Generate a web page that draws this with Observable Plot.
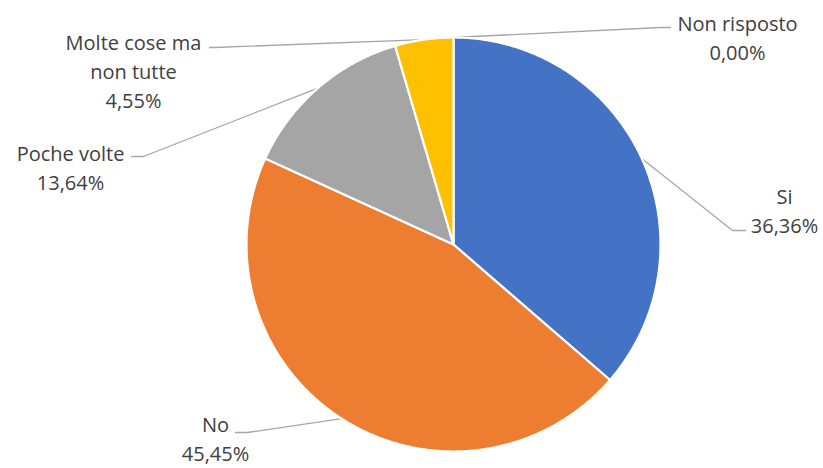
<!DOCTYPE html>
<html>
<head>
<meta charset="utf-8">
<script src="https://cdn.jsdelivr.net/npm/d3@7"></script>
<script src="https://cdn.jsdelivr.net/npm/@observablehq/plot@0.6"></script>
<style>
  html, body { margin: 0; padding: 0; background: #fff; }
</style>
</head>
<body>
<div id="chart"></div>
<script>
// ---- data ----
const categories = ["Si", "No", "Poche volte", "Molte cose ma non tutte", "Non risposto"];
const percentages = [36.36, 45.45, 13.64, 4.55, 0.00];
const colors = ["#4472C4", "#ED7D31", "#A5A5A5", "#FFC000", "#5B9BD5"];

// ---- layout (pixels) ----
const W = 823, H = 468;
const CX = 453, CY = 244, R = 207;
const labelLines = {
  "Si": ["Si"],
  "No": ["No"],
  "Poche volte": ["Poche volte"],
  "Molte cose ma non tutte": ["Molte cose ma", "non tutte"],
  "Non risposto": ["Non risposto"]
};
const labelPos = {           // block center in pixels
  "Si": [784, 209],
  "No": [215, 437],
  "Poche volte": [70, 166],
  "Molte cose ma non tutte": [133, 69.5],
  "Non risposto": [737, 35.5]
};
const leaderPts = {          // elbow and end points in pixels
  "Si": [[732, 230], [745, 230]],
  "No": [[247, 432], [235, 432]],
  "Poche volte": [[143, 156], [131, 156]],
  "Molte cose ma non tutte": [[214, 47], [209, 47]],
  "Non risposto": [[660, 27], [670, 27]]
};

// pixel <-> data (unit circle) helpers
const toX = px => (px - CX) / R;
const toY = py => (CY - py) / R;

const rows = categories.map((c, i) => ({category: c, value: percentages[i], color: colors[i]}));
const pie = d3.pie().sort(null).value(d => d.value)(rows);

// slice polygons in unit coordinates
const slicePts = [];
pie.forEach(p => {
  if (p.endAngle - p.startAngle <= 0) return;
  const key = p.data.category;
  slicePts.push({key, x: 0, y: 0, color: p.data.color});
  const n = Math.max(2, Math.ceil((p.endAngle - p.startAngle) / 0.01));
  for (let k = 0; k <= n; k++) {
    const a = p.startAngle + (p.endAngle - p.startAngle) * k / n;
    slicePts.push({key, x: Math.sin(a), y: Math.cos(a), color: p.data.color});
  }
  slicePts.push({key, x: 0, y: 0, color: p.data.color});
});

// leader lines
const leaders = [];
pie.forEach(p => {
  const key = p.data.category;
  const a = (p.startAngle + p.endAngle) / 2;
  leaders.push({key, x: Math.sin(a), y: Math.cos(a)});
  leaderPts[key].forEach(([px, py]) => leaders.push({key, x: toX(px), y: toY(py)}));
});

// labels
const fmt = v => v.toFixed(2).replace(".", ",") + "%";
const labels = pie.map(p => {
  const key = p.data.category;
  const [px, py] = labelPos[key];
  return {x: toX(px), y: toY(py), text: [...labelLines[key], fmt(p.data.value)].join("\n")};
});

const chart = Plot.plot({
  width: W,
  height: H,
  marginLeft: CX - R,
  marginRight: W - (CX + R),
  marginTop: CY - R,
  marginBottom: H - (CY + R),
  x: {domain: [-1, 1], axis: null},
  y: {domain: [-1, 1], axis: null},
  style: {background: "#fff", fontFamily: "'Open Sans', sans-serif", overflow: "visible"},
  marks: [
    Plot.line(leaders, {x: "x", y: "y", z: "key", stroke: "#A6A6A6", strokeWidth: 1.3, curve: "linear"}),
    Plot.line(slicePts, {x: "x", y: "y", z: "key", fill: "color", stroke: "#fff", strokeWidth: 2.2, strokeLinejoin: "round", curve: "linear"}),
    Plot.text(labels, {x: "x", y: "y", text: "text", fontSize: 20, lineHeight: 1.45, fill: "#404040", textAnchor: "middle"})
  ]
});
document.getElementById("chart").appendChild(chart);
</script>
</body>
</html>
